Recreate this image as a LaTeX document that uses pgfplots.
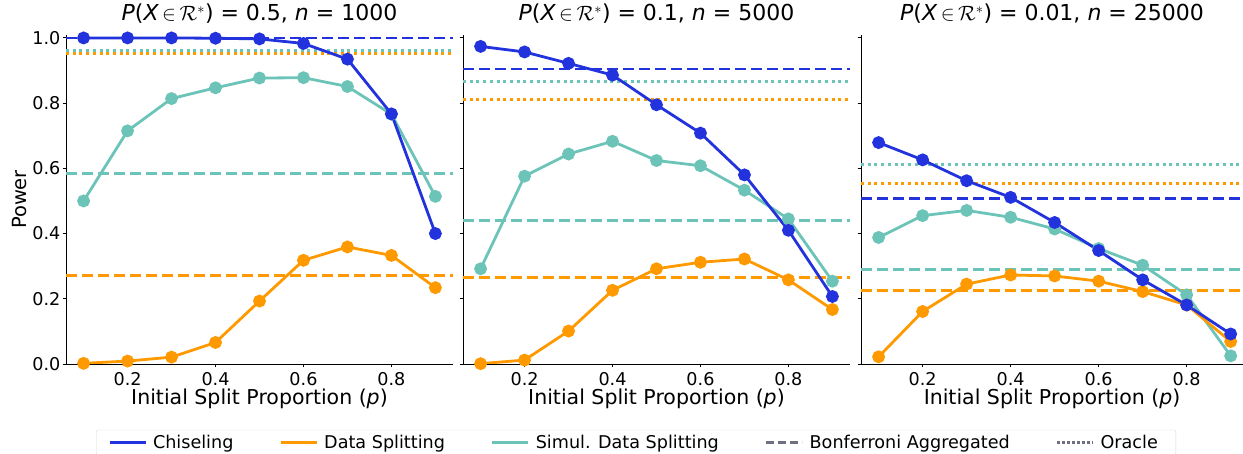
\documentclass[border=0pt]{standalone}
\usepackage{pgfplots}
\pgfplotsset{compat=1.18}
\usepackage{fontspec}
\setmainfont{DejaVu Sans}
\definecolor{cblue}{RGB}{34,51,221}
\definecolor{corange}{RGB}{255,153,0}
\definecolor{cteal}{RGB}{108,196,184}
\definecolor{cgray}{RGB}{110,112,128}
\newcommand{\fs}{\fontsize{20.5}{24}\selectfont}
\newcommand{\fst}{\fontsize{17.6}{21}\selectfont}
\newcommand{\ttl}[2]{{\itshape P}({\itshape X}\,$\in$\,$\mathcal{R}^{*}$) = #1, {\itshape n} = #2}
\pgfplotsset{
  panel/.style={
    scale only axis, width=387pt, height=329pt,
    xmin=0.06, xmax=0.94, ymin=0, ymax=1.009,
    axis x line*=bottom, axis y line*=left,
    axis line style={line width=0.9pt, -},
    tick align=outside, major tick length=3.5pt,
    tick style={line width=0.9pt, black},
    xtick={0.2,0.4,0.6,0.8}, ytick={0,0.2,0.4,0.6,0.8,1.0},
    /pgf/number format/.cd, fixed, fixed zerofill, precision=1, assume math mode=true,
    /pgfplots/.cd,
    tick label style={font=\fst},
    xticklabel style={anchor=base, yshift=-18pt},
    yticklabel style={inner xsep=0pt, xshift=-2pt},
    label style={font=\fs},
    xlabel={Initial Split Proportion ({\itshape p})},
    xlabel style={at={(axis description cs:0.5,-0.1246)}, anchor=base},
    title style={font=\fontsize{22}{26}\selectfont, at={(axis description cs:0.5,1)}, anchor=base, yshift=8pt},
    clip=true,
  },
  ch/.style={cblue, line width=2.8pt, mark=*, mark size=5pt, mark options={solid}, forget plot},
  ds/.style={corange, line width=2.8pt, mark=*, mark size=5pt, mark options={solid}, forget plot},
  sds/.style={cteal, line width=2.8pt, mark=*, mark size=5pt, mark options={solid}, forget plot},
  bon/.style={line width=2.8pt, dash pattern=on 11pt off 5pt, forget plot},
  ora/.style={line width=2.8pt, dash pattern=on 3pt off 3.7pt, forget plot},
}
\begin{document}
\begin{tikzpicture}
\useasboundingbox (0,0) rectangle (1243pt,454pt);
% Panel 1
\begin{axis}[panel, at={(66pt,90pt)}, anchor=south west,
  title={\ttl{0.5}{1000}},
  ylabel={Power},
  ylabel style={at={(axis description cs:-0.121,0.5)}, anchor=center, font=\fontsize{19.5}{23}\selectfont},
  legend columns=5,
  legend style={at={(axis description cs:1.473,-0.200)}, anchor=north,
    draw=black!15, rounded corners=2pt, font=\fst, inner xsep=12pt, inner ysep=3pt,
    /tikz/every odd column/.append style={text width=36pt},
    /tikz/every even column/.append style={column sep=40pt},
    nodes={inner xsep=6pt}},
  legend image code/.code={\draw[#1] (0pt,0pt) -- (36pt,0pt);},
]
\addlegendimage{cblue, line width=2.8pt}\addlegendentry{Chiseling}
\addlegendimage{corange, line width=2.8pt}\addlegendentry{Data Splitting}
\addlegendimage{cteal, line width=2.8pt}\addlegendentry{Simul. Data Splitting}
\addlegendimage{cgray, line width=2.8pt, dash pattern=on 8pt off 4pt}\addlegendentry{Bonferroni Aggregated}
\addlegendimage{cgray, line width=2.8pt, dash pattern=on 2.5pt off 2.5pt}\addlegendentry{Oracle}
\addplot[ora, cteal] coordinates {(0.06,0.961) (0.94,0.961)};
\addplot[ora, corange] coordinates {(0.06,0.953) (0.94,0.953)};
\addplot[bon, cteal] coordinates {(0.06,0.584) (0.94,0.584)};
\addplot[bon, corange] coordinates {(0.06,0.271) (0.94,0.271)};
\addplot[sds] coordinates {(0.1,0.500) (0.2,0.715) (0.3,0.814) (0.4,0.847) (0.5,0.877) (0.6,0.878) (0.7,0.851) (0.8,0.766) (0.9,0.514)};
\addplot[ds] coordinates {(0.1,0.002) (0.2,0.009) (0.3,0.021) (0.4,0.066) (0.5,0.193) (0.6,0.318) (0.7,0.359) (0.8,0.333) (0.9,0.234)};
\addplot[ch] coordinates {(0.1,1.0) (0.2,1.0) (0.3,1.0) (0.4,0.999) (0.5,0.997) (0.6,0.983) (0.7,0.935) (0.8,0.767) (0.9,0.400)};
\addplot[bon, cblue] coordinates {(0.06,1.0) (0.94,1.0)};
\end{axis}
% Panel 2
\begin{axis}[panel, at={(463pt,90pt)}, anchor=south west,
  title={\ttl{0.1}{5000}}, yticklabels={}]
\addplot[ora, cteal] coordinates {(0.06,0.867) (0.94,0.867)};
\addplot[ora, corange] coordinates {(0.06,0.812) (0.94,0.812)};
\addplot[bon, cteal] coordinates {(0.06,0.440) (0.94,0.440)};
\addplot[bon, corange] coordinates {(0.06,0.266) (0.94,0.266)};
\addplot[sds] coordinates {(0.1,0.292) (0.2,0.576) (0.3,0.644) (0.4,0.683) (0.5,0.624) (0.6,0.608) (0.7,0.533) (0.8,0.445) (0.9,0.254)};
\addplot[ds] coordinates {(0.1,0.001) (0.2,0.012) (0.3,0.101) (0.4,0.226) (0.5,0.292) (0.6,0.312) (0.7,0.322) (0.8,0.258) (0.9,0.167)};
\addplot[ch] coordinates {(0.1,0.974) (0.2,0.957) (0.3,0.922) (0.4,0.886) (0.5,0.795) (0.6,0.708) (0.7,0.580) (0.8,0.410) (0.9,0.207)};
\addplot[bon, cblue] coordinates {(0.06,0.905) (0.94,0.905)};
\end{axis}
% Panel 3
\begin{axis}[panel, at={(861pt,90pt)}, anchor=south west, width=382pt, xmax=0.928,
  title={\ttl{0.01}{25000}}, yticklabels={}]
\addplot[ora, cteal] coordinates {(0.06,0.612) (0.94,0.612)};
\addplot[ora, corange] coordinates {(0.06,0.554) (0.94,0.554)};
\addplot[bon, cteal] coordinates {(0.06,0.290) (0.94,0.290)};
\addplot[bon, corange] coordinates {(0.06,0.226) (0.94,0.226)};
\addplot[sds] coordinates {(0.1,0.388) (0.2,0.455) (0.3,0.471) (0.4,0.450) (0.5,0.414) (0.6,0.354) (0.7,0.303) (0.8,0.212) (0.9,0.025)};
\addplot[ds] coordinates {(0.1,0.022) (0.2,0.161) (0.3,0.245) (0.4,0.273) (0.5,0.270) (0.6,0.254) (0.7,0.222) (0.8,0.181) (0.9,0.069)};
\addplot[ch] coordinates {(0.1,0.679) (0.2,0.626) (0.3,0.562) (0.4,0.511) (0.5,0.434) (0.6,0.348) (0.7,0.258) (0.8,0.181) (0.9,0.092)};
\addplot[bon, cblue] coordinates {(0.06,0.508) (0.94,0.508)};
\end{axis}
\end{tikzpicture}
\end{document}
